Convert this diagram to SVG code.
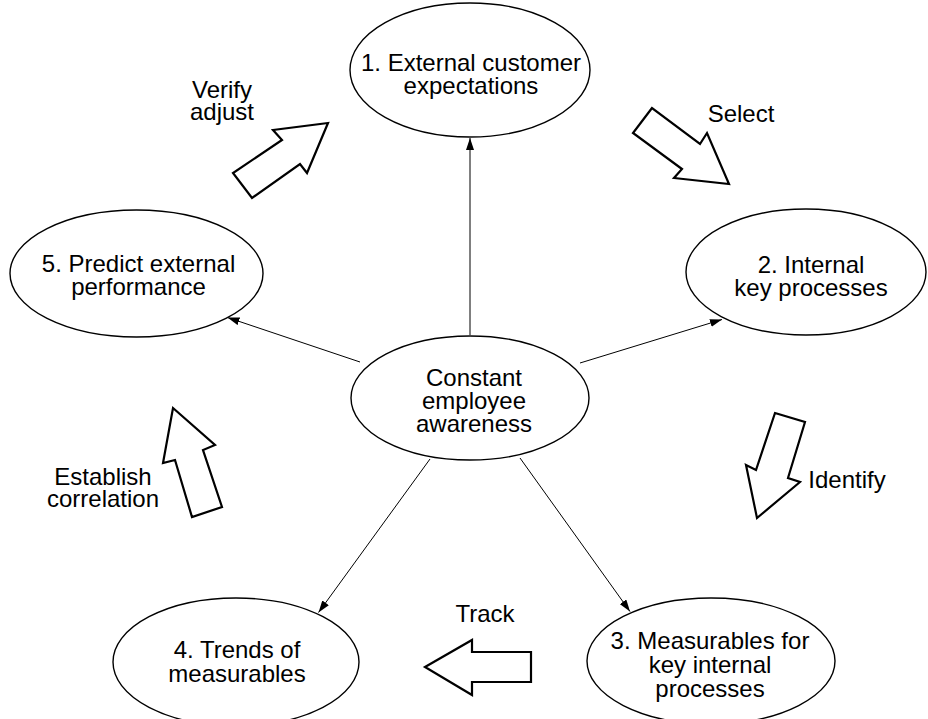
<svg xmlns="http://www.w3.org/2000/svg" width="928" height="719" viewBox="0 0 928 719">
<defs>
<style>
.node ellipse{fill:#fff;stroke:#000;stroke-width:1.4}
text{font-family:"Liberation Sans",Arial,sans-serif;font-size:24px;fill:#000;text-anchor:middle}
.conn line{stroke:#000;stroke-width:1;marker-end:url(#ah)}
.blk{fill:#fff;stroke:#000;stroke-width:2.2;stroke-linejoin:miter}
</style>
<marker id="ah" viewBox="0 0 12 8" refX="12" refY="4" markerWidth="12" markerHeight="8" markerUnits="userSpaceOnUse" orient="auto">
<path d="M0,0 L12,4 L0,8 Z" fill="#000"/>
</marker>
</defs>
<rect width="928" height="719" fill="#fff"/>
<g id="connectors" class="conn">
<line x1="470" y1="335" x2="470" y2="138"/>
<line x1="580" y1="363" x2="722" y2="319.5"/>
<line x1="360" y1="362" x2="227.5" y2="317.5"/>
<line x1="430" y1="459" x2="318.5" y2="612.5"/>
<line x1="520" y1="458" x2="630" y2="611.5"/>
</g>
<g id="node-center" class="node">
<ellipse cx="470" cy="398" rx="119" ry="62"/>
<text x="474" y="386">Constant</text>
<text x="474" y="409">employee</text>
<text x="474" y="432">awareness</text>
</g>
<g id="node-1" class="node">
<ellipse cx="470" cy="70" rx="120" ry="67"/>
<text x="471" y="71">1. External customer</text>
<text x="471" y="94">expectations</text>
</g>
<g id="node-2" class="node">
<ellipse cx="806" cy="272" rx="120" ry="63"/>
<text x="811" y="273">2. Internal</text>
<text x="811" y="296">key processes</text>
</g>
<g id="node-3" class="node">
<ellipse cx="711" cy="661" rx="124" ry="63"/>
<text x="710" y="649">3. Measurables for</text>
<text x="710" y="673">key internal</text>
<text x="710" y="697">processes</text>
</g>
<g id="node-4" class="node">
<ellipse cx="236" cy="662" rx="123" ry="64"/>
<text x="237" y="658">4. Trends of</text>
<text x="237" y="682">measurables</text>
</g>
<g id="node-5" class="node">
<ellipse cx="136.5" cy="273.5" rx="126.5" ry="63.5"/>
<text x="138.5" y="272">5. Predict external</text>
<text x="138.5" y="295">performance</text>
</g>
<g id="flow-arrows">
<polygon class="blk" points="328,123 273,130 282,140 233,173 252,198 300,164 307,173"/>
<polygon class="blk" points="652,108 633,133 682,169 674,178 729,184 707,133 700,144"/>
<polygon class="blk" points="775,413 805,422 788,478 800,482 757,518 746,465 756,470"/>
<polygon class="blk" points="173,408 215,445 203,450 222,507 192,517 175,460 163,463"/>
<polygon class="blk" points="425,667 472,640 472,652 531,652 531,682 472,682 472,695"/>
</g>
<g id="labels">
<text x="222" y="98">Verify</text>
<text x="222" y="120">adjust</text>
<text x="741" y="122">Select</text>
<text x="847" y="488">Identify</text>
<text x="103" y="485">Establish</text>
<text x="103" y="507">correlation</text>
<text x="485" y="622">Track</text>
</g>
</svg>
